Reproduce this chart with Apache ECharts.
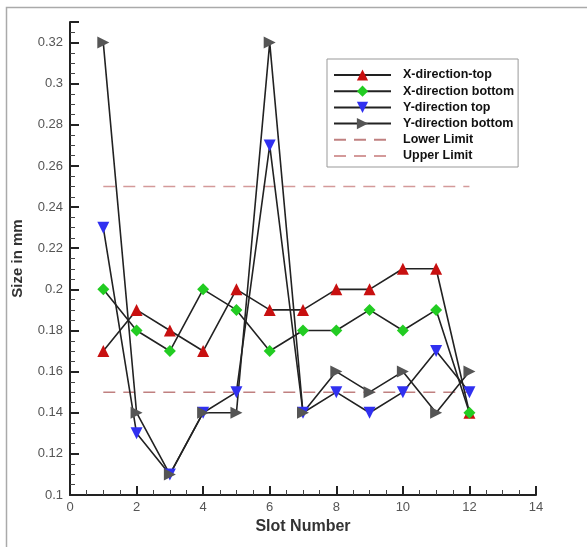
<!DOCTYPE html>
<html>
<head>
<meta charset="utf-8">
<script src="https://cdn.jsdelivr.net/npm/echarts@6/dist/echarts.min.js"></script>
<style>
  html, body { margin: 0; padding: 0; background: #fff; }
  #main { width: 587px; height: 547px; }
</style>
</head>
<body>
<div id="main"></div>
<script>
var slots = [1, 2, 3, 4, 5, 6, 7, 8, 9, 10, 11, 12];
var xTop    = [0.17, 0.19, 0.18, 0.17, 0.20, 0.19, 0.19, 0.20, 0.20, 0.21, 0.21, 0.14];
var xBottom = [0.20, 0.18, 0.17, 0.20, 0.19, 0.17, 0.18, 0.18, 0.19, 0.18, 0.19, 0.14];
var yTop    = [0.23, 0.13, 0.11, 0.14, 0.15, 0.27, 0.14, 0.15, 0.14, 0.15, 0.17, 0.15];
var yBottom = [0.32, 0.14, 0.11, 0.14, 0.14, 0.32, 0.14, 0.16, 0.15, 0.16, 0.14, 0.16];
var limitX = [1, 12];
var lowerLimit = 0.15;
var upperLimit = 0.25;

var myChart = echarts.init(document.getElementById('main'));

function pairs(vals) {
    return slots.map(function (s, i) { return [s, vals[i]]; });
}
function limitLine(v) {
    return limitX.map(function (x) { return [x, v]; });
}

function dataSeries(name, vals, symbol, rotate, color) {
    return {
        name: name,
        type: 'line',
        data: pairs(vals),
        symbol: symbol,
        symbolSize: 12,
        symbolRotate: rotate,
        showAllSymbol: true,
        lineStyle: { color: '#222', width: 1.6 },
        itemStyle: { color: color, borderWidth: 0 },
        emphasis: { disabled: true }
    };
}

var option = {
    animation: false,
    backgroundColor: '#fff',
    textStyle: { fontFamily: 'Liberation Sans' },
    graphic: [{
        type: 'rect',
        shape: { x: 6.5, y: 7.5, width: 600, height: 600 },
        style: { fill: 'none', stroke: '#aaa', lineWidth: 1.5 }
    }],
    grid: { left: 70, right: 51, top: 22, bottom: 52 },
    legend: {
        orient: 'vertical',
        left: 327,
        top: 59,
        padding: [9, 4, 4, 6],
        itemWidth: 57,
        itemHeight: 14,
        itemGap: 2.2,
        backgroundColor: '#fff',
        borderColor: '#999',
        borderWidth: 1,
        textStyle: { fontSize: 12.5, fontWeight: 'bold', color: '#111', fontFamily: 'Liberation Sans', padding: [0, 0, 0, 7], lineHeight: 14 },
        data: [
            'X-direction-top', 'X-direction bottom', 'Y-direction top', 'Y-direction bottom',
            { name: 'Lower Limit', itemStyle: { opacity: 0 } },
            { name: 'Upper Limit', itemStyle: { opacity: 0 } }
        ]
    },
    xAxis: {
        type: 'value',
        min: 0,
        max: 14,
        interval: 2,
        name: 'Slot Number',
        nameLocation: 'middle',
        nameGap: 18,
        nameTextStyle: { fontSize: 16, fontWeight: 'bold', color: '#333' },
        axisLine: { lineStyle: { color: '#222', width: 2 } },
        axisTick: { inside: true, length: 9, lineStyle: { color: '#222', width: 2 } },
        minorTick: { show: true, splitNumber: 4, length: 5, lineStyle: { color: '#444', width: 1 } },
        axisLabel: { fontSize: 13, color: '#555', margin: 6 },
        splitLine: { show: false }
    },
    yAxis: {
        type: 'value',
        min: 0.1,
        max: 0.33,
        interval: 0.02,
        name: 'Size in mm',
        nameLocation: 'middle',
        nameGap: 45,
        nameTextStyle: { fontSize: 15, fontWeight: 'bold', color: '#333' },
        axisLine: { show: true, lineStyle: { color: '#222', width: 2 } },
        axisTick: { inside: true, length: 9, lineStyle: { color: '#222', width: 2 } },
        minorTick: { show: true, splitNumber: 4, length: 5, lineStyle: { color: '#444', width: 1 } },
        axisLabel: { fontSize: 13, color: '#555', margin: 7, showMaxLabel: false },
        splitLine: { show: false }
    },
    series: [
        {
            name: 'Lower Limit',
            type: 'line',
            data: limitLine(lowerLimit),
            symbol: 'none',
            lineStyle: { color: '#c08080', width: 1.5, type: [12, 8] },
            itemStyle: { color: '#c08080' },
            emphasis: { disabled: true }
        },
        {
            name: 'Upper Limit',
            type: 'line',
            data: limitLine(upperLimit),
            symbol: 'none',
            lineStyle: { color: '#d49a9a', width: 1.5, type: [12, 8] },
            itemStyle: { color: '#d49a9a' },
            emphasis: { disabled: true }
        },
        dataSeries('X-direction-top', xTop, 'triangle', 0, '#c81010'),
        dataSeries('X-direction bottom', xBottom, 'diamond', 0, '#22cc22'),
        dataSeries('Y-direction top', yTop, 'triangle', 180, '#3030f0'),
        dataSeries('Y-direction bottom', yBottom, 'triangle', -90, '#555555')
    ]
};

myChart.setOption(option);
</script>
</body>
</html>
